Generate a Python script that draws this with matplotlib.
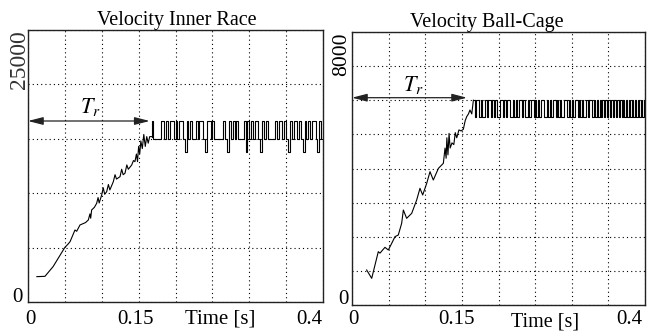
import numpy as np
import matplotlib
matplotlib.use('Agg')
import matplotlib.pyplot as plt

plt.rcParams['font.family'] = ['Liberation Serif', 'DejaVu Serif']
plt.rcParams['mathtext.fontset'] = 'stix'

# ---------------- data: Velocity Inner Race ----------------
ir_ramp_t = [0.012, 0.023, 0.034, 0.050, 0.054, 0.057, 0.0637, 0.066, 0.0705, 0.078,
             0.0818, 0.084, 0.085, 0.0863, 0.090, 0.0931, 0.095, 0.0965, 0.0999, 0.102,
             0.104, 0.1067, 0.109, 0.111, 0.1157, 0.118, 0.120, 0.1248, 0.127, 0.129,
             0.1315, 0.134, 0.136, 0.1406, 0.143, 0.145, 0.147, 0.1485, 0.150, 0.1515,
             0.153, 0.155, 0.157, 0.159, 0.161, 0.163, 0.165, 0.1675]
ir_ramp_v = [2330, 2360, 3250, 5020, 5300, 5540, 6620, 6500, 7080, 7300,
             7540, 8100, 7700, 8460, 8700, 9070, 9600, 9100, 9830, 10500,
             9900, 10140, 10800, 10300, 11060, 11700, 11300, 11520, 12200, 11700,
             11830, 12600, 12200, 12590, 13000, 12900, 13600, 12900, 14300, 13600,
             14800, 14100, 15400, 14300, 15200, 14600, 15200, 15200]
ir_steady_t0 = 0.1675
ir_levels = [13800, 15000, 16600]          # low / middle / high speed levels
ir_codes = [2, 1, 1, 1, 1, 2, 2, 1, 2, 1, 2, 2, 1,
            2, 1, 2, 2, 1, 0, 2, 1, 2, 1, 1, 2, 1, 2, 2, 1, 0, 2, 2, 1,
            2, 1, 1, 1, 1, 1, 2, 1, 0, 2, 1, 2, 1, 2, 1, 1, 1, 2, 0, 2,
            1, 2, 1, 2, 2, 1, 0, 2, 1, 2, 1, 1, 1, 1, 2, 1, 2, 2, 1, 2,
            1, 0, 2, 1, 2, 2, 1, 2, 1, 0, 2, 1, 2, 1, 2, 2, 1, 0, 2, 1]

# ---------------- data: Velocity Ball-Cage ----------------
bc_ramp_t = [0.020, 0.0269, 0.0359, 0.0382, 0.045, 0.0496, 0.0542, 0.0587, 0.0632, 0.0678,
             0.0701, 0.0746, 0.0815, 0.0883, 0.0928, 0.0965, 0.102, 0.1065, 0.111, 0.118,
             0.1247, 0.127, 0.1285, 0.1295, 0.131, 0.1325, 0.134, 0.1365, 0.139, 0.141,
             0.143, 0.146, 0.149, 0.152, 0.1545, 0.1566, 0.159, 0.161, 0.1635, 0.1657]
bc_ramp_v = [1026, 781, 1563, 1520, 1690, 1612, 1807, 2003, 2051, 2393,
             2784, 2540, 2686, 3077, 3419, 3223, 3566, 3907, 3663, 4005,
             4152, 4600, 4300, 4900, 4400, 5030, 4600, 4750, 4700, 5050,
             4900, 5130, 5100, 5150, 5400, 5520, 5600, 5714, 5600, 6000]
bc_steady_t0 = 0.1657
bc_levels = [5520, 6000]
bc_codes = [1, 0, 1, 1, 0, 1, 0, 0, 1, 0, 1, 1, 0, 1, 0, 1, 0, 0, 1, 1,
            0, 1, 0, 1, 1, 0, 0, 1, 0, 1, 0, 1, 1, 0, 1, 0, 0, 1, 0, 1,
            1, 0, 1, 0, 1, 0, 1, 1, 0, 0, 1, 0, 1, 0, 1, 1, 0, 1, 0, 1,
            0, 0, 1, 1, 0, 1, 0, 1, 0, 1, 1, 0, 1, 0, 1, 0, 0, 1, 0, 1,
            1, 0, 1, 0, 1, 0, 1, 0, 1, 0, 1, 0, 1, 0, 1, 0, 1, 0, 1, 0,
            1, 0, 1, 0, 1, 0, 1, 0, 1, 0, 1, 0, 1, 0, 1, 0, 1]

titles = ['Velocity Inner Race', 'Velocity Ball-Cage']
ymax_vals = [25000, 8000]
ymax_labels = ['25000', '8000']
ygrid_step = [5000, 1000]
xtick_labels = ['0', '0.15', '0.4']
tr_arrow_end = [0.165, 0.157]
tr_arrow_level = [16636, 6075]

fig = plt.figure(figsize=(6.52, 3.32), dpi=100)
ax1 = fig.add_axes([28/652, 1-302/332, 295/652, 272/332])
ax2 = fig.add_axes([352/652, 1-305/332, 293/652, 273/332])


def steady_series(t0, codes, levels, tend=0.4):
    n = len(codes)
    dt = (tend - t0) / n
    t = t0 + dt * np.arange(n + 1)
    v = [levels[c] for c in codes] + [levels[codes[-1]]]
    return t, np.array(v)


def style(ax, ymax, ystep):
    ax.set_xlim(0, 0.4)
    ax.set_ylim(0, ymax)
    ax.set_xticks(np.arange(0, 0.4001, 0.05))
    ax.set_yticks(np.arange(0, ymax + 1, ystep))
    ax.tick_params(length=0, labelbottom=False, labelleft=False)
    ax.grid(True, color='black', linestyle=(0, (1, 2.8)), linewidth=0.8)
    for s in ax.spines.values():
        s.set_linewidth(1.0)
        s.set_color('#222222')


for k, (ax, rt, rv, t0, codes, levels) in enumerate([
        (ax1, ir_ramp_t, ir_ramp_v, ir_steady_t0, ir_codes, ir_levels),
        (ax2, bc_ramp_t, bc_ramp_v, bc_steady_t0, bc_codes, bc_levels)]):
    style(ax, ymax_vals[k], ygrid_step[k])
    ax.plot(rt, rv, color='black', linewidth=0.8)
    st, sv = steady_series(t0, codes, levels)
    ax.plot(np.r_[rt[-1], st], np.r_[rv[-1], sv], color='black', linewidth=0.8,
            drawstyle='steps-post')
    ax.annotate('', xy=(tr_arrow_end[k], tr_arrow_level[k]), xytext=(0, tr_arrow_level[k]),
                arrowprops=dict(arrowstyle='<|-|>,head_length=0.7,head_width=0.18',
                                mutation_scale=13, color='#222222', lw=0.9,
                                shrinkA=0, shrinkB=0))

FS = 15
# titles
fig.text(177/652, 1-21/332, titles[0], ha='center', va='center', fontsize=14.5)
fig.text(487/652, 1-23/332, titles[1], ha='center', va='center', fontsize=14.5)

# T_r labels
fig.text(90/652, 1-107/332, r'$T_r$', ha='center', va='center', fontsize=16)
fig.text(413/652, 1-85/332, r'$T_r$', ha='center', va='center', fontsize=16)

# y labels
fig.text(20/652, 1-30/332, ymax_labels[0], rotation=90, ha='center', va='top', fontsize=17, color='#333333')
fig.text(17/652, 1-297/332, '0', ha='center', va='center', fontsize=FS)
fig.text(342/652, 1-33/332, ymax_labels[1], rotation=90, ha='center', va='top', fontsize=15.5)
fig.text(343/652, 1-299/332, '0', ha='center', va='center', fontsize=FS)

# x labels (pixel positions of label centres)
left_x = [30, 136, 322]
right_x = [353, 457, 642]
for k, xs in enumerate([left_x, right_x]):
    fig.text(xs[0]/652, 1-319/332, xtick_labels[0], ha='center', va='center', fontsize=FS)
    fig.text(xs[1]/652, 1-319/332, xtick_labels[1], ha='center', va='center', fontsize=FS)
    fig.text(xs[2]/652, 1-319/332, xtick_labels[2], ha='right', va='center', fontsize=FS)
fig.text(220/652, 1-319/332, 'Time [s]', ha='center', va='center', fontsize=FS)
fig.text(545/652, 1-322/332, 'Time [s]', ha='center', va='center', fontsize=14.5)

fig.savefig('out.png', dpi=100)
